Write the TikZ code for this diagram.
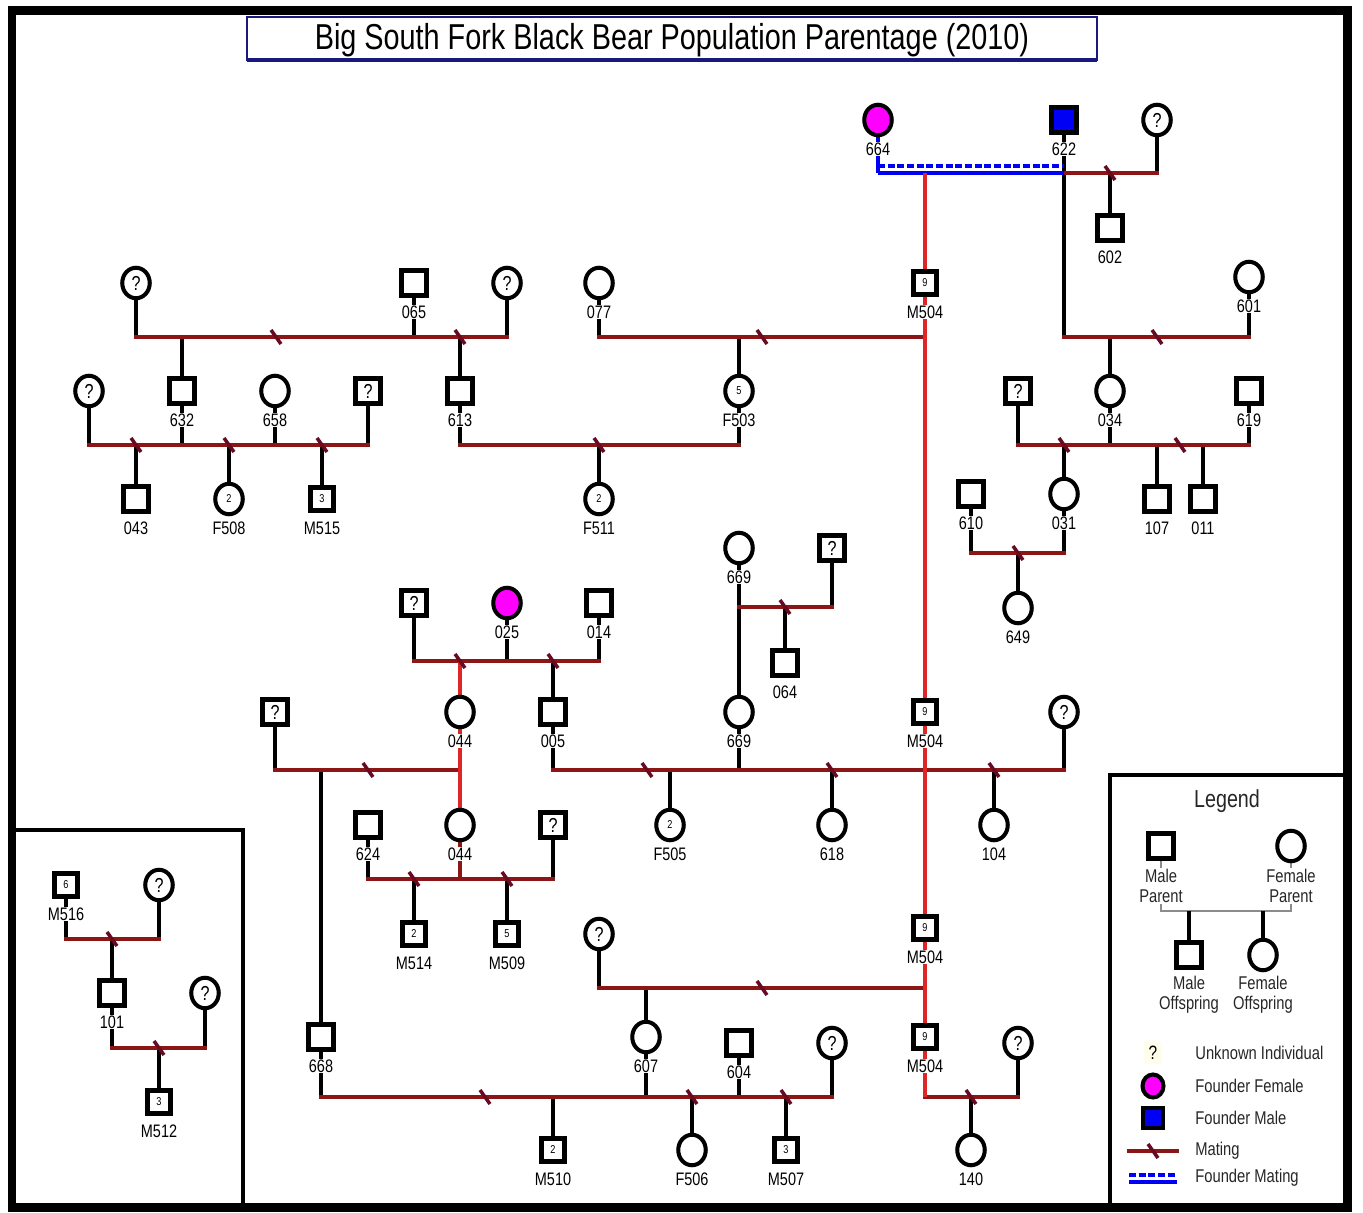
\documentclass[tikz,border=0pt]{standalone}
\usepackage{fontspec}
\setmainfont{Liberation Sans}[FakeStretch=0.8]
\usetikzlibrary{shapes.geometric,calc}
\definecolor{matered}{RGB}{140,22,22}
\definecolor{slashred}{RGB}{105,10,35}
\definecolor{brightred}{RGB}{222,38,38}
\definecolor{fmag}{RGB}{255,0,255}
\definecolor{fblue}{RGB}{0,0,245}
\definecolor{navy}{RGB}{25,25,125}
\definecolor{leggray}{RGB}{140,140,140}
\pgfdeclarelayer{bg}
\pgfsetlayers{bg,main}
\newcommand\bear[5]{\node[#2] (#1) at (#3) {#4};\node[lbl] (L#1) at ($(#1)+(0,29)$) {#5};}
\newcommand\ukn[3]{\node[#2,unk] (#1) at (#3) {?};}
\newcommand\slsh[1]{\draw[slashln] (#1) +(-5,-7) -- +(5,7);}
\begin{document}
\begin{tikzpicture}[x=0.02cm,y=-0.02cm,
 sym/.style={draw=black,line width=2.3pt,fill=white,inner sep=0pt,font=\fontsize{6.5}{7}\selectfont},
 msq/.style={sym,rectangle,minimum size=0.5cm},
 msqn/.style={sym,rectangle,minimum size=0.46cm},
 fci/.style={sym,ellipse,minimum width=0.55cm,minimum height=0.61cm},
 unk/.style={font=\fontsize{11.5}{12}\selectfont},
 lbl/.style={fill=white,inner sep=0.6pt,font=\fontsize{10.3}{11}\selectfont},
 legtxt/.style={font=\fontsize{10.5}{11.5}\selectfont,text=black!85},
 mate/.style={draw=matered,line width=2.7pt,line cap=rect},
 kidln/.style={draw=black,line width=2.1pt},
 redln/.style={draw=brightred,line width=1.9pt},
 slashln/.style={draw=slashred,line width=2pt},
 fsolid/.style={draw=fblue,line width=2.3pt},
 fdash/.style={draw=fblue,line width=2pt,dash pattern=on 4pt off 1.5pt}]
\useasboundingbox (0,0) rectangle (1363,1213);
% frame and boxes
\draw[line width=0.18cm] (12,11) rectangle (1347,1207);
\draw[line width=2.4pt] (12,830) -- (243,830) -- (243,1207);
\draw[line width=2.4pt] (1110,1207) -- (1110,775) -- (1347,775);
% title
\coordinate (tb1) at (247,17); \coordinate (tb2) at (1097,60);
\draw[navy,line width=1.6pt] (tb1) rectangle (tb2);
\draw[navy,line width=2.8pt] (tb1 |- tb2) -- (tb2);
\node[font=\fontsize{20.5}{24}\selectfont,inner sep=0pt] (title) at (672,40.5) {Big South Fork Black Bear Population Parentage (2010)};
% y levels
\foreach \yy in {166,173,337,445,553,607,661,770,879,988,1097,939,1048,911}{\coordinate (y\yy) at (0,\yy);}
% individuals
\bear{N664}{fci,fill=fmag}{878,120}{}{664}
\bear{N622}{msq,fill=fblue}{1064,120}{}{622}
\ukn{U1}{fci}{1157,120}
\bear{N602}{msq}{1110,228}{}{602}
\bear{M504a}{msqn}{925,283}{9}{M504}
\bear{N601}{fci}{1249,277}{}{601}
\ukn{U2}{fci}{136,283}
\bear{N065}{msq}{414,283}{}{065}
\ukn{U3}{fci}{507,283}
\bear{N077}{fci}{599,283}{}{077}
\ukn{U4}{fci}{89,391}
\bear{N632}{msq}{182,391}{}{632}
\bear{N658}{fci}{275,391}{}{658}
\ukn{U5}{msq}{368,391}
\bear{N613}{msq}{460,391}{}{613}
\bear{F503}{fci}{739,391}{5}{F503}
\ukn{U6}{msq}{1018,391}
\bear{N034}{fci}{1110,391}{}{034}
\bear{N619}{msq}{1249,391}{}{619}
\bear{N043}{msq}{136,499}{}{043}
\bear{F508}{fci}{229,499}{2}{F508}
\bear{M515}{msqn}{322,499}{3}{M515}
\bear{F511}{fci}{599,499}{2}{F511}
\bear{N610}{msq}{971,494}{}{610}
\bear{N031}{fci}{1064,494}{}{031}
\bear{N107}{msq}{1157,499}{}{107}
\bear{N011}{msq}{1203,499}{}{011}
\bear{N669a}{fci}{739,548}{}{669}
\ukn{U7}{msq}{832,548}
\bear{N649}{fci}{1018,608}{}{649}
\ukn{U8}{msq}{414,603}
\bear{N025}{fci,fill=fmag}{507,603}{}{025}
\bear{N014}{msq}{599,603}{}{014}
\bear{N064}{msq}{785,663}{}{064}
\ukn{U9}{msq}{275,712}
\bear{N044a}{fci}{460,712}{}{044}
\bear{N005}{msq}{553,712}{}{005}
\bear{N669b}{fci}{739,712}{}{669}
\bear{M504b}{msqn}{925,712}{9}{M504}
\ukn{U10}{fci}{1064,712}
\bear{N624}{msq}{368,825}{}{624}
\bear{N044b}{fci}{460,825}{}{044}
\ukn{U11}{msq}{553,825}
\bear{F505}{fci}{670,825}{2}{F505}
\bear{N618}{fci}{832,825}{}{618}
\bear{N104}{fci}{994,825}{}{104}
\bear{M514}{msqn}{414,934}{2}{M514}
\bear{M509}{msqn}{507,934}{5}{M509}
\ukn{U12}{fci}{599,934}
\bear{M504c}{msqn}{925,928}{9}{M504}
\bear{N668}{msq}{321,1037}{}{668}
\bear{N607}{fci}{646,1037}{}{607}
\bear{N604}{msq}{739,1043}{}{604}
\ukn{U13}{fci}{832,1043}
\bear{M504d}{msqn}{925,1037}{9}{M504}
\ukn{U14}{fci}{1018,1043}
\bear{M510}{msqn}{553,1150}{2}{M510}
\bear{F506}{fci}{692,1150}{}{F506}
\bear{M507}{msqn}{786,1150}{3}{M507}
\bear{N140}{fci}{971,1150}{}{140}
\bear{M516}{msqn}{66,885}{6}{M516}
\ukn{U15}{fci}{159,885}
\bear{N101}{msq}{112,993}{}{101}
\ukn{U16}{fci}{205,993}
\bear{M512}{msqn}{159,1102}{3}{M512}
% legend
\node[font=\fontsize{14}{16}\selectfont,text=black!85] (legt) at (1227,801) {Legend};
\node[msq] (LMP) at (1161,846) {};
\node[lbl,legtxt,align=center] (LLMP) at (1161,886) {Male\\Parent};
\node[fci] (LFP) at (1291,846) {};
\node[lbl,legtxt,align=center] (LLFP) at (1291,886) {Female\\Parent};
\node[msq] (LMO) at (1189,955) {};
\node[legtxt,align=center] (LLMO) at (1189,995) {Male\\Offspring};
\node[fci] (LFO) at (1263,955) {};
\node[legtxt,align=center] (LLFO) at (1263,995) {Female\\Offspring};
\node[fill=yellow!8,inner sep=2.5pt,font=\fontsize{11}{12}\selectfont] (LQ) at (1153,1053) {?};
\node[sym,ellipse,fill=fmag,minimum width=0.42cm,minimum height=0.46cm] (LFF) at (1153,1086) {};
\node[sym,rectangle,fill=fblue,minimum size=0.4cm] (LFMs) at (1153,1118) {};
\coordinate (lm1) at (1129,1151); \coordinate (lm2) at (1177,1151);
\coordinate (lf1) at (1129,1175); \coordinate (lf2) at (1177,1175);
\coordinate (lf3) at (1129,1182); \coordinate (lf4) at (1177,1182);
\node[legtxt,anchor=west,inner sep=0pt] (T1) at (1195,1053) {Unknown Individual};
\node[legtxt,anchor=west,inner sep=0pt] (T2) at (1195,1086) {Founder Female};
\node[legtxt,anchor=west,inner sep=0pt] (T3) at (1195,1118) {Founder Male};
\node[legtxt,anchor=west,inner sep=0pt] (T4) at (1195,1151) {Mating};
\node[legtxt,anchor=west,inner sep=0pt] (T5) at (1195,1178) {Founder Mating};
\begin{pgfonlayer}{bg}
% verticals
\draw[draw=fblue,line width=2.1pt] (N664) -- (N664 |- y173);
\draw[kidln] (N622) -- (N622 |- y337);
\draw[kidln] (U1) -- (U1 |- y173);
\draw[kidln] (N602 |- y173) -- (N602);
\draw[kidln] (U2) -- (U2 |- y337);
\draw[kidln] (N065) -- (N065 |- y337);
\draw[kidln] (U3) -- (U3 |- y337);
\draw[kidln] (N632 |- y337) -- (N632);
\draw[kidln] (N613 |- y337) -- (N613);
\draw[kidln] (N077) -- (N077 |- y337);
\draw[kidln] (F503 |- y337) -- (F503);
\draw[kidln] (N601) -- (N601 |- y337);
\draw[kidln] (N034 |- y337) -- (N034);
\draw[kidln] (U4) -- (U4 |- y445);
\draw[kidln] (N632) -- (N632 |- y445);
\draw[kidln] (N658) -- (N658 |- y445);
\draw[kidln] (U5) -- (U5 |- y445);
\draw[kidln] (N043 |- y445) -- (N043);
\draw[kidln] (F508 |- y445) -- (F508);
\draw[kidln] (M515 |- y445) -- (M515);
\draw[kidln] (N613) -- (N613 |- y445);
\draw[kidln] (F503) -- (F503 |- y445);
\draw[kidln] (F511 |- y445) -- (F511);
\draw[kidln] (U6) -- (U6 |- y445);
\draw[kidln] (N034) -- (N034 |- y445);
\draw[kidln] (N619) -- (N619 |- y445);
\draw[kidln] (N031 |- y445) -- (N031);
\draw[kidln] (N107 |- y445) -- (N107);
\draw[kidln] (N011 |- y445) -- (N011);
\draw[kidln] (N610) -- (N610 |- y553);
\draw[kidln] (N031) -- (N031 |- y553);
\draw[kidln] (N649 |- y553) -- (N649);
\draw[kidln] (U7) -- (U7 |- y607);
\draw[kidln] (N669a) -- (N669b);
\draw[kidln] (N064 |- y607) -- (N064);
\draw[kidln] (U8) -- (U8 |- y661);
\draw[kidln] (N025) -- (N025 |- y661);
\draw[kidln] (N014) -- (N014 |- y661);
\draw[kidln] (N005 |- y661) -- (N005);
\draw[kidln] (U9) -- (U9 |- y770);
\draw[kidln] (N668 |- y770) -- (N668);
\draw[kidln] (N005) -- (N005 |- y770);
\draw[kidln] (N669b) -- (N669b |- y770);
\draw[kidln] (U10) -- (U10 |- y770);
\draw[kidln] (F505 |- y770) -- (F505);
\draw[kidln] (N618 |- y770) -- (N618);
\draw[kidln] (N104 |- y770) -- (N104);
\draw[kidln] (N624) -- (N624 |- y879);
\draw[kidln] (U11) -- (U11 |- y879);
\draw[draw=matered,line width=2.1pt] (N044b) -- (N044b |- y879);
\draw[kidln] (M514 |- y879) -- (M514);
\draw[kidln] (M509 |- y879) -- (M509);
\draw[kidln] (U12) -- (U12 |- y988);
\draw[kidln] (N607 |- y988) -- (N607);
\draw[kidln] (N668) -- (N668 |- y1097);
\draw[kidln] (N607) -- (N607 |- y1097);
\draw[kidln] (N604) -- (N604 |- y1097);
\draw[kidln] (U13) -- (U13 |- y1097);
\draw[kidln] (M510 |- y1097) -- (M510);
\draw[kidln] (F506 |- y1097) -- (F506);
\draw[kidln] (M507 |- y1097) -- (M507);
\draw[kidln] (U14) -- (U14 |- y1097);
\draw[kidln] (N140 |- y1097) -- (N140);
\draw[kidln] (M516) -- (M516 |- y939);
\draw[kidln] (U15) -- (U15 |- y939);
\draw[kidln] (N101 |- y939) -- (N101);
\draw[kidln] (N101) -- (N101 |- y1048);
\draw[kidln] (U16) -- (U16 |- y1048);
\draw[kidln] (M512 |- y1048) -- (M512);
% legend lines
\draw[draw=leggray,line width=1.6pt] (LMP) -- (LMP |- y911) -- (LFP |- y911) -- (LFP);
\draw[kidln] (LMO |- y911) -- (LMO);
\draw[kidln] (LFO |- y911) -- (LFO);
% matings
\draw[mate] (N622 |- y173) -- (U1 |- y173);
\draw[fsolid] (N664 |- y173) -- (N622 |- y173);
\draw[fdash] (N664 |- y166) -- (N622 |- y166);
\draw[mate] (U2 |- y337) -- (U3 |- y337);
\draw[mate] (N077 |- y337) -- (M504a |- y337);
\draw[mate] (N622 |- y337) -- (N601 |- y337);
\draw[mate] (U4 |- y445) -- (U5 |- y445);
\draw[mate] (N613 |- y445) -- (F503 |- y445);
\draw[mate] (U6 |- y445) -- (N619 |- y445);
\draw[mate] (N610 |- y553) -- (N031 |- y553);
\draw[mate] (N669a |- y607) -- (U7 |- y607);
\draw[mate] (U8 |- y661) -- (N014 |- y661);
\draw[mate] (U9 |- y770) -- (N044a |- y770);
\draw[mate] (N005 |- y770) -- (U10 |- y770);
\draw[mate] (N624 |- y879) -- (U11 |- y879);
\draw[mate] (U12 |- y988) -- (M504c |- y988);
\draw[mate] (N668 |- y1097) -- (U13 |- y1097);
\draw[mate] (M504d |- y1097) -- (U14 |- y1097);
\draw[mate] (M516 |- y939) -- (U15 |- y939);
\draw[mate] (N101 |- y1048) -- (U16 |- y1048);
\draw[mate] (lm1) -- (lm2);
\draw[fdash] (lf1) -- (lf2);
\draw[fsolid] (lf3) -- (lf4);
% red lines
\draw[redln] (M504a |- y173) -- (M504d |- y1097);
\draw[redln] (N044a |- y661) -- (N044b);
% slashes
\slsh{N602 |- y173}
\slsh{276,337}
\slsh{N613 |- y337}
\slsh{762,337}
\slsh{1157,337}
\slsh{N043 |- y445}
\slsh{F508 |- y445}
\slsh{M515 |- y445}
\slsh{F511 |- y445}
\slsh{N031 |- y445}
\slsh{1180,445}
\slsh{N649 |- y553}
\slsh{N064 |- y607}
\slsh{N044a |- y661}
\slsh{N005 |- y661}
\slsh{368,770}
\slsh{647,770}
\slsh{N618 |- y770}
\slsh{N104 |- y770}
\slsh{M514 |- y879}
\slsh{M509 |- y879}
\slsh{762,988}
\slsh{485,1097}
\slsh{F506 |- y1097}
\slsh{M507 |- y1097}
\slsh{N140 |- y1097}
\slsh{N101 |- y939}
\slsh{M512 |- y1048}
\slsh{1153,1151}
\end{pgfonlayer}
\end{tikzpicture}
\end{document}
